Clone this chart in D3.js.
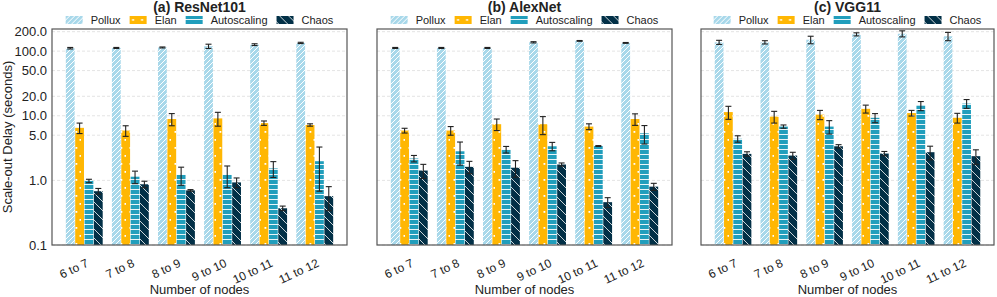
<!DOCTYPE html>
<html>
<head>
<meta charset="utf-8">
<script src="https://cdn.jsdelivr.net/npm/d3@7"></script>
<style>
  body { margin: 0; background: #fff; }
  svg { font-family: "Liberation Sans", Arial, sans-serif; }
</style>
</head>
<body>
<svg width="997" height="297"></svg>
<script>
// categories
const groups = ["6 to 7", "7 to 8", "8 to 9", "9 to 10", "10 to 11", "11 to 12"];
const methods = ["Pollux", "Elan", "Autoscaling", "Chaos"];
const yTicks = [0.1, 1, 5, 10, 20, 50, 100, 200];

// ResNet101: means and error (per method, per group)
const resnetMean = [
  [111, 112, 114, 119, 126, 134],
  [6.5, 5.9, 8.9, 9.1, 7.7, 7.2],
  [0.98, 1.14, 1.22, 1.22, 1.53, 1.98],
  [0.68, 0.87, 0.70, 0.93, 0.37, 0.57]
];
const resnetErr = [
  [3, 2, 2, 9, 4, 3],
  [1.2, 1.1, 1.9, 2.2, 0.6, 0.3],
  [0.06, 0.25, 0.38, 0.45, 0.42, 1.3],
  [0.07, 0.1, 0.02, 0.16, 0.03, 0.23]
];

// AlexNet
const alexMean = [
  [112, 112, 112, 137, 144, 134],
  [5.9, 5.9, 7.4, 7.4, 6.8, 8.9],
  [2.18, 2.82, 3.0, 3.37, 3.4, 5.35],
  [1.42, 1.62, 1.57, 1.76, 0.46, 0.80]
];
const alexErr = [
  [2, 2, 2, 3, 2, 2],
  [0.5, 0.9, 1.5, 2.3, 0.7, 1.8],
  [0.25, 1.1, 0.35, 0.5, 0.05, 1.7],
  [0.35, 0.35, 0.45, 0.1, 0.08, 0.1]
];

// VGG11
const vggMean = [
  [137, 137, 150, 182, 186, 170],
  [11.4, 9.7, 10.4, 12.8, 11.0, 9.3],
  [4.4, 6.8, 6.8, 9.3, 14.3, 15.4],
  [2.57, 2.42, 3.37, 2.6, 2.73, 2.37]
];
const vggErr = [
  [10, 8, 20, 10, 20, 25],
  [2.6, 2.0, 1.7, 1.8, 1.1, 1.6],
  [0.5, 0.4, 1.6, 1.5, 2.3, 2.4],
  [0.2, 0.3, 0.2, 0.2, 0.65, 0.6]
];

const panels = [
  {title: "(a) ResNet101", mean: resnetMean, err: resnetErr, x0: 52, x1: 347, yLabels: true},
  {title: "(b) AlexNet", mean: alexMean, err: alexErr, x0: 377, x1: 672, yLabels: false},
  {title: "(c) VGG11", mean: vggMean, err: vggErr, x0: 701, x1: 994, yLabels: false}
];

const plotTop = 29, plotBottom = 245;
const svg = d3.select("svg");

// patterns for each method
const defs = svg.append("defs");

let p = defs.append("pattern").attr("id", "pat-Pollux").attr("patternUnits", "userSpaceOnUse")
  .attr("width", 5).attr("height", 5);
p.append("rect").attr("width", 5).attr("height", 5).attr("fill", "#a8d8ea");
p.append("path").attr("d", "M0,5 L5,0 M-1,1 L1,-1 M4,6 L6,4")
  .attr("stroke", "#fff").attr("stroke-width", 1);

p = defs.append("pattern").attr("id", "pat-Elan").attr("patternUnits", "userSpaceOnUse")
  .attr("width", 9).attr("height", 16);
p.append("rect").attr("width", 9).attr("height", 16).attr("fill", "#ffb703");
p.append("rect").attr("x", 3.5).attr("y", 3).attr("width", 1.8).attr("height", 1.8).attr("fill", "#fff");
p.append("rect").attr("x", 7.5).attr("y", 11).attr("width", 1.8).attr("height", 1.8).attr("fill", "#fff");

p = defs.append("pattern").attr("id", "pat-Autoscaling").attr("patternUnits", "userSpaceOnUse")
  .attr("width", 5).attr("height", 5);
p.append("rect").attr("width", 5).attr("height", 5).attr("fill", "#219ebc");
p.append("path").attr("d", "M0,4.5 L5,4.5").attr("stroke", "#fff").attr("stroke-width", 0.9);

p = defs.append("pattern").attr("id", "pat-Chaos").attr("patternUnits", "userSpaceOnUse")
  .attr("width", 9).attr("height", 9);
p.append("rect").attr("width", 9).attr("height", 9).attr("fill", "#023047");
p.append("path").attr("d", "M0,0 L9,9 M-1,8 L1,10 M8,-1 L10,1")
  .attr("stroke", "#fff").attr("stroke-width", 0.8);

const y = d3.scaleLog().domain([0.1, 220]).range([plotBottom, plotTop]);

panels.forEach(pn => {
  const g = svg.append("g");
  const x = d3.scaleBand().domain(groups).range([pn.x0, pn.x1])
    .paddingInner(0.2).paddingOuter(0.3);
  const xm = d3.scaleBand().domain(methods).range([0, x.bandwidth()]).paddingInner(0.06);

  // grid
  g.selectAll(".grid").data(yTicks).enter().append("line")
    .attr("x1", pn.x0).attr("x2", pn.x1)
    .attr("y1", d => y(d)).attr("y2", d => y(d))
    .attr("stroke", "#ddd").attr("stroke-width", 0.8).attr("stroke-dasharray", "3,2");

  // bars
  methods.forEach((m, mi) => {
    g.selectAll(".bar-" + m).data(groups).enter().append("rect")
      .attr("x", d => x(d) + xm(m))
      .attr("width", xm.bandwidth())
      .attr("y", (d, i) => y(pn.mean[mi][i]))
      .attr("height", (d, i) => plotBottom - y(pn.mean[mi][i]))
      .attr("fill", "url(#pat-" + m + ")");
  });

  // error bars
  methods.forEach((m, mi) => {
    groups.forEach((gr, i) => {
      const cx = x(gr) + xm(m) + xm.bandwidth() / 2;
      const v = pn.mean[mi][i], e = pn.err[mi][i];
      const y1 = y(v + e), y2 = y(Math.max(v - e, 0.101));
      g.append("line").attr("x1", cx).attr("x2", cx).attr("y1", y1).attr("y2", y2)
        .attr("stroke", "#222").attr("stroke-width", 1.1);
      [y1, y2].forEach(yy => g.append("line").attr("x1", cx - 3).attr("x2", cx + 3)
        .attr("y1", yy).attr("y2", yy).attr("stroke", "#222").attr("stroke-width", 1.1));
    });
  });

  // frame
  g.append("rect").attr("x", pn.x0).attr("y", plotTop).attr("width", pn.x1 - pn.x0).attr("height", plotBottom - plotTop)
    .attr("fill", "none").attr("stroke", "#555").attr("stroke-width", 1.2);

  // y tick labels
  if (pn.yLabels) {
    g.selectAll(".ylab").data(yTicks).enter().append("text")
      .attr("x", pn.x0 - 5).attr("y", d => y(d)).attr("dy", "0.35em")
      .attr("text-anchor", "end").attr("font-size", 13).attr("fill", "#222")
      .text(d => d3.format(".1f")(d));
  }

  // x tick labels
  g.selectAll(".xlab").data(groups).enter().append("text")
    .attr("transform", d => `translate(${x(d) + x.bandwidth() / 2 + 5},${plotBottom + 21}) rotate(-25)`)
    .attr("text-anchor", "end").attr("font-size", 12).attr("fill", "#222")
    .text(d => d);

  // x axis title
  g.append("text").attr("x", (pn.x0 + pn.x1) / 2).attr("y", 294)
    .attr("text-anchor", "middle").attr("font-size", 13).attr("fill", "#222")
    .text("Number of nodes");

  // panel title
  const cx = (pn.x0 + pn.x1) / 2;
  g.append("text").attr("x", cx).attr("y", 12)
    .attr("text-anchor", "middle").attr("font-size", 14).attr("font-weight", "bold").attr("fill", "#222")
    .text(pn.title);

  // legend
  const lg = g.append("g");
  let lx = 0;
  methods.forEach(m => {
    lg.append("rect").attr("x", lx).attr("y", 16).attr("width", 17).attr("height", 8)
      .attr("fill", "url(#pat-" + m + ")");
    const t = lg.append("text").attr("x", lx + 25).attr("y", 24)
      .attr("font-size", 11).attr("fill", "#222").text(m);
    lx += 25 + t.node().getComputedTextLength() + 9;
  });
  lx -= 9;
  lg.attr("transform", `translate(${cx - lx / 2},0)`);
});

// y axis title
svg.append("text")
  .attr("transform", `translate(12,${(plotTop + plotBottom) / 2}) rotate(-90)`)
  .attr("text-anchor", "middle").attr("font-size", 13).attr("fill", "#222")
  .text("Scale-out Delay (seconds)");
</script>
</body>
</html>
